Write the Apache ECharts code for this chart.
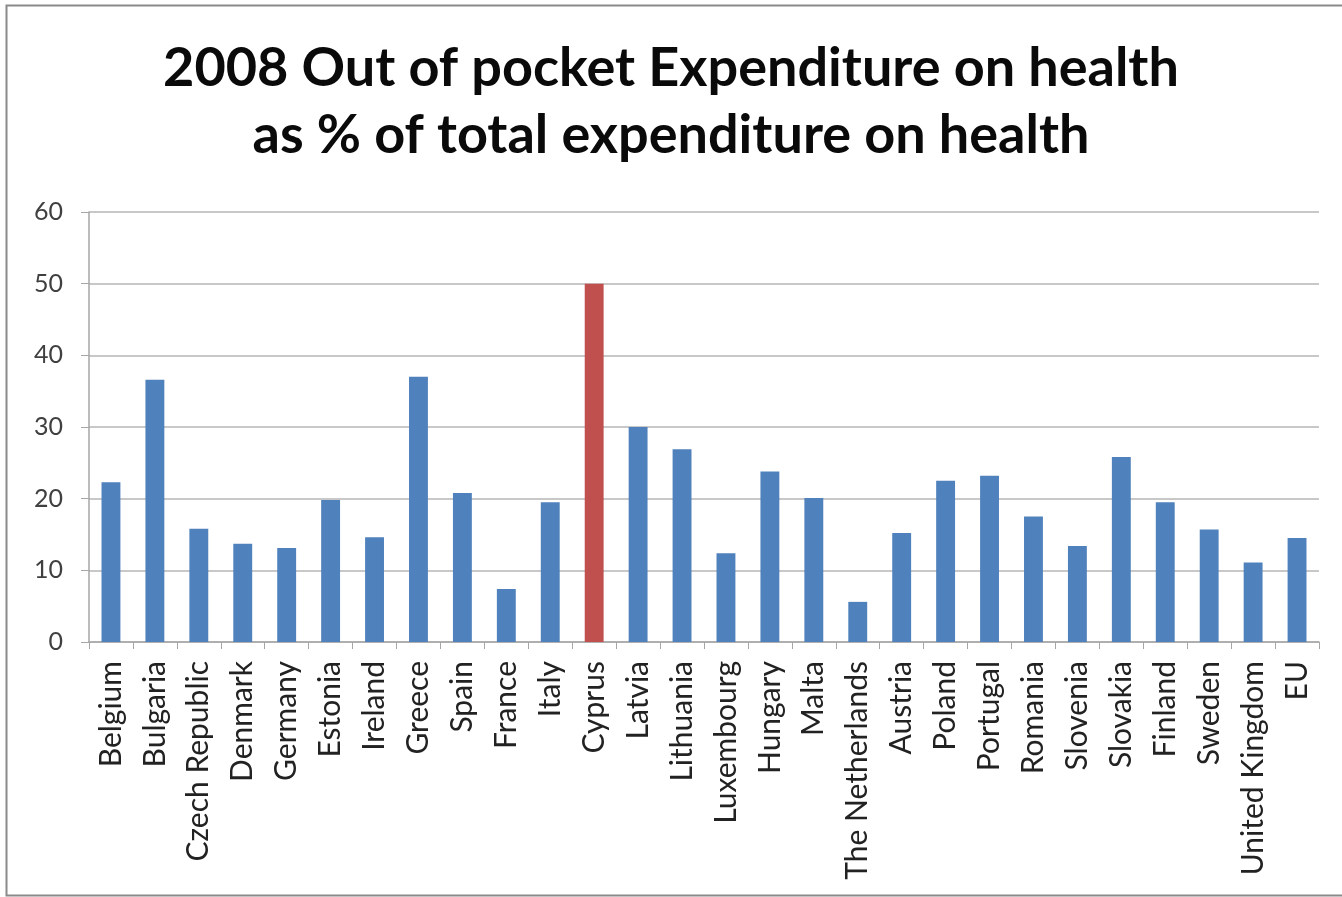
<!DOCTYPE html>
<html>
<head>
<meta charset="utf-8">
<script src="https://cdn.jsdelivr.net/npm/echarts@6/dist/echarts.min.js"></script>
<style>html,body{margin:0;padding:0;background:#fff}#c{width:1342px;height:897px}</style>
</head>
<body>
<div id="c"></div>
<script>
const countries = ['Belgium','Bulgaria','Czech Republic','Denmark','Germany','Estonia','Ireland','Greece','Spain','France','Italy','Cyprus','Latvia','Lithuania','Luxembourg','Hungary','Malta','The Netherlands','Austria','Poland','Portugal','Romania','Slovenia','Slovakia','Finland','Sweden','United Kingdom','EU'];
const values = [22.3,36.6,15.8,13.7,13.1,19.8,14.6,37.0,20.8,7.4,19.5,50.0,30.0,26.9,12.4,23.8,20.1,5.6,15.2,22.5,23.2,17.5,13.4,25.8,19.5,15.7,11.1,14.5];
const highlight = 'Cyprus';
const yTicks = [0,10,20,30,40,50,60];

const chart = echarts.init(document.getElementById('c'));
chart.setOption({
  backgroundColor: '#fff',
  animation: false,
  title: {
    text: '2008 Out of pocket Expenditure on health\nas % of total expenditure on health',
    left: 'center', top: 30,
    textStyle: {fontFamily: 'Lato', fontWeight: 'bold', fontSize: 54, lineHeight: 67, color: '#0a0a0a'}
  },
  graphic: [{
    type: 'rect', shape: {x: 6.5, y: 5.5, width: 1400, height: 890},
    style: {fill: 'none', stroke: '#8a8a8a', lineWidth: 2}, silent: true, z: -1
  }],
  grid: {left: 89, right: 23, top: 212, bottom: 255, containLabel: false},
  xAxis: {
    type: 'category', data: countries,
    axisLine: {lineStyle: {color: '#a6a6a6', width: 1.5}},
    axisTick: {show: true, length: 7, lineStyle: {color: '#a6a6a6'}},
    axisLabel: {rotate: 90, interval: 0, fontFamily: 'Lato', fontSize: 30, color: '#222', margin: 19}
  },
  yAxis: {
    type: 'value', min: yTicks[0], max: yTicks[yTicks.length-1], interval: 10,
    axisLine: {show: true, lineStyle: {color: '#a6a6a6', width: 1.5}},
    axisTick: {show: true, length: 8, lineStyle: {color: '#a6a6a6'}},
    splitLine: {lineStyle: {color: '#c8c8c8', width: 2}},
    axisLabel: {fontFamily: 'Lato', fontSize: 25, color: '#404040', margin: 26}
  },
  series: [{
    type: 'bar', barWidth: '43%',
    data: countries.map((c, i) => ({value: values[i], itemStyle: {color: c === highlight ? '#c0504d' : '#4f81bd'}}))
  }]
});
</script>
</body>
</html>
